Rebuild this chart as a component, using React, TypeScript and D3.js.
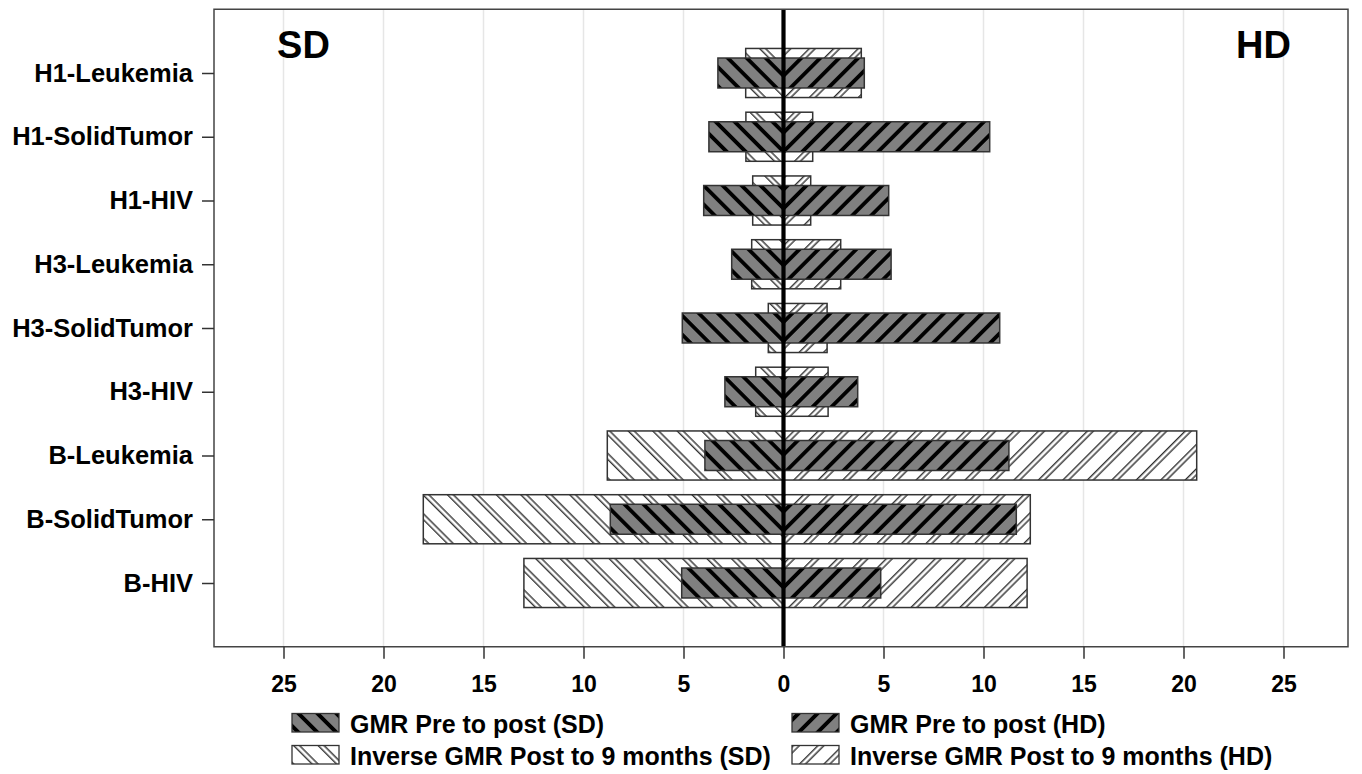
import React, { useEffect, useRef } from "react";
import * as d3 from "d3";

// categories top to bottom
const categories = [
  "H1-Leukemia",
  "H1-SolidTumor",
  "H1-HIV",
  "H3-Leukemia",
  "H3-SolidTumor",
  "H3-HIV",
  "B-Leukemia",
  "B-SolidTumor",
  "B-HIV",
];
// GMR pre to post, drawn to the left (SD) and right (HD)
const gmrSD = [3.28, 3.73, 3.99, 2.59, 5.06, 2.93, 3.93, 8.66, 5.09];
const gmrHD = [4.04, 10.31, 5.26, 5.38, 10.81, 3.71, 11.27, 11.64, 4.86];
// inverse GMR post to 9 months
const invSD = [1.89, 1.88, 1.54, 1.59, 0.76, 1.39, 8.81, 18.01, 12.98];
const invHD = [3.89, 1.46, 1.36, 2.86, 2.18, 2.23, 20.66, 12.34, 12.18];
const xTicks = [-25, -20, -15, -10, -5, 0, 5, 10, 15, 20, 25];
const legendLabels = [
  "GMR Pre to post (SD)",
  "GMR Pre to post (HD)",
  "Inverse GMR Post to 9 months (SD)",
  "Inverse GMR Post to 9 months (HD)",
];

const FONT = "'Liberation Sans', Arial, Helvetica, sans-serif";

function App() {
  const ref = useRef<SVGSVGElement | null>(null);

  useEffect(() => {
    drawChart();
  }, []);

  const drawChart = () => {
    const svg = d3.select(ref.current);
    svg.selectAll("*").remove();

    const left = 214, right = 1348, top = 9.25, bottom = 646.75;

    const x = d3.scaleLinear().domain([-28.475, 28.225]).range([left, right]);
    const y = d3.scalePoint<string>().domain(categories).range([top, bottom]).padding(1);
    const step = y.step();
    const x0 = x(0);

    // patterns
    const defs = svg.append("defs");
    const stripe = (id: string, angle: number, bg: string, period: number, draw: (p: any, w: number) => void) => {
      const p = defs.append("pattern")
        .attr("id", id)
        .attr("patternUnits", "userSpaceOnUse")
        .attr("width", period)
        .attr("height", 40)
        .attr("patternTransform", `translate(${x0},0) rotate(${angle})`);
      p.append("rect").attr("width", period).attr("height", 40).attr("fill", bg);
      draw(p, period);
    };
    const solidStripe = (p: any, w: number) => {
      const sw = 3.8;
      p.append("rect").attr("x", 0).attr("width", sw / 2).attr("height", 40).attr("fill", "#000");
      p.append("rect").attr("x", w - sw / 2).attr("width", sw / 2).attr("height", 40).attr("fill", "#000");
    };
    const doubleLine = (p: any, w: number) => {
      [0, 4.2].forEach(o => {
        p.append("line")
          .attr("x1", o + 0.7).attr("x2", o + 0.7)
          .attr("y1", 0).attr("y2", 40)
          .attr("stroke", "#222").attr("stroke-width", 1.3);
      });
    };
    stripe("gmrSD", -45, "#808080", 13.4, solidStripe);
    stripe("gmrHD", 45, "#808080", 13.4, solidStripe);
    stripe("invSD", -45, "#ffffff", 17.3, doubleLine);
    stripe("invHD", 45, "#ffffff", 17.3, doubleLine);

    // grid lines
    svg.append("g")
      .selectAll("line")
      .data(xTicks)
      .enter()
      .append("line")
      .attr("x1", d => x(d)).attr("x2", d => x(d))
      .attr("y1", top).attr("y2", bottom)
      .attr("stroke", "#e6e6e6")
      .attr("stroke-width", 1.5);

    // SD / HD headings
    svg.append("text").text("SD")
      .attr("x", x(-24)).attr("y", 58)
      .attr("text-anchor", "middle")
      .attr("font-family", FONT).attr("font-weight", "bold").attr("font-size", 38);
    svg.append("text").text("HD")
      .attr("x", x(24)).attr("y", 58)
      .attr("text-anchor", "middle")
      .attr("font-family", FONT).attr("font-weight", "bold").attr("font-size", 38);

    const invH = step * 0.77, gmrH = step * 0.47;
    const bars = svg.append("g");

    const addBars = (vals: number[], side: number, h: number, fill: string) => {
      bars.append("g")
        .selectAll("rect")
        .data(categories)
        .enter()
        .append("rect")
        .attr("x", (d, i) => side < 0 ? x(-vals[i]) : x0)
        .attr("width", (d, i) => Math.abs(x(vals[i]) - x0))
        .attr("y", d => (y(d) as number) - h / 2)
        .attr("height", h)
        .attr("fill", `url(#${fill})`)
        .attr("stroke", "#333")
        .attr("stroke-width", 1.5);
    };
    addBars(invSD, -1, invH, "invSD");
    addBars(invHD, 1, invH, "invHD");
    addBars(gmrSD, -1, gmrH, "gmrSD");
    addBars(gmrHD, 1, gmrH, "gmrHD");

    // zero line
    svg.append("line")
      .attr("x1", x0).attr("x2", x0)
      .attr("y1", top).attr("y2", bottom)
      .attr("stroke", "#000")
      .attr("stroke-width", 4.2);

    // frame
    svg.append("rect")
      .attr("x", left).attr("y", top)
      .attr("width", right - left).attr("height", bottom - top)
      .attr("fill", "none")
      .attr("stroke", "#444")
      .attr("stroke-width", 1.5);

    // x axis
    const xAxis = svg.append("g")
      .attr("transform", `translate(0,${bottom})`)
      .call(d3.axisBottom(x).tickValues(xTicks).tickSize(12).tickPadding(17).tickFormat(d => String(Math.abs(+d))));
    xAxis.select(".domain").remove();
    xAxis.selectAll("line").attr("stroke", "#333").attr("stroke-width", 1.5);
    xAxis.selectAll("text")
      .attr("font-family", FONT).attr("font-weight", "bold").attr("font-size", 23).attr("fill", "#000");

    // y axis
    const yAxis = svg.append("g")
      .attr("transform", `translate(${left},0)`)
      .call(d3.axisLeft(y).tickSize(12).tickPadding(9));
    yAxis.select(".domain").remove();
    yAxis.selectAll("line").attr("stroke", "#333").attr("stroke-width", 1.5);
    yAxis.selectAll("text")
      .attr("font-family", FONT).attr("font-weight", "bold").attr("font-size", 25.5).attr("fill", "#000");

    // legend
    const legendFills = ["gmrSD", "gmrHD", "invSD", "invHD"];
    const legendX = [292, 792];
    const legendY = [713.5, 745.5];
    const leg = svg.append("g")
      .selectAll("g")
      .data(legendLabels)
      .enter()
      .append("g")
      .attr("transform", (d, i) => `translate(${legendX[i % 2]},${legendY[Math.floor(i / 2)]})`);
    leg.append("rect")
      .attr("width", 47).attr("height", 18.5)
      .attr("fill", (d, i) => `url(#${legendFills[i]})`)
      .attr("stroke", "#333").attr("stroke-width", 1.3);
    leg.append("text")
      .text(d => d)
      .attr("x", 58).attr("y", 19.2)
      .attr("font-family", FONT).attr("font-weight", "bold").attr("font-size", 25).attr("fill", "#000");
  };

  return (
    <svg
      ref={ref}
      width={1362}
      height={774}
      style={{ position: "absolute", left: 0, top: 0, background: "#fff" }}
    />
  );
}

export default App;
